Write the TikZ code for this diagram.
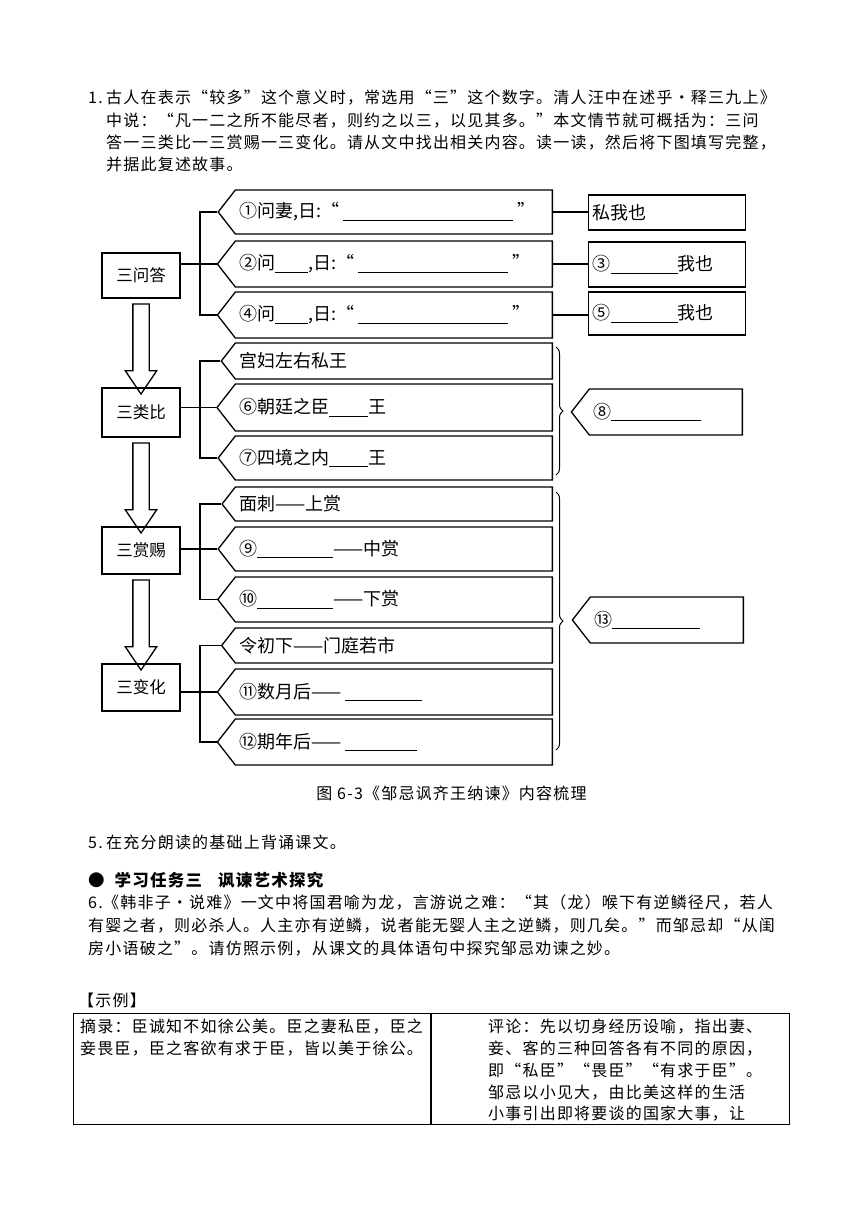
\documentclass[tikz,border=0pt]{standalone}
\usepackage{fontspec}
\setmainfont{Noto Sans CJK SC}
\newfontfamily\bodyfont[LetterSpace=7.5]{Noto Sans CJK SC}
\newfontfamily\handfont{Noto Sans CJK SC}
\usetikzlibrary{arrows.meta,positioning,calc,shapes.symbols,shapes.arrows,decorations.pathreplacing}
\newcommand{\fillin}[1]{\rule[-3pt]{#1pt}{0.7pt}}
\tikzset{lbl/.style={draw,line width=1.3pt,minimum width=78pt,inner sep=0pt,font=\handfont\fontsize{16.5}{18}\selectfont},
  tag/.style={draw,line width=1.3pt,signal,signal to=west,signal pointer angle=104,anchor=east,text width=309pt,inner xsep=4pt,inner ysep=0pt,align=left,font=\handfont\fontsize{18}{20}\selectfont},
  ans/.style={draw,line width=1.3pt,anchor=west,minimum width=157pt,text width=149pt,inner xsep=4pt,inner ysep=0pt,align=left,font=\handfont\fontsize{18}{20}\selectfont},
  blockarr/.style={draw,line width=1.3pt,single arrow,shape border rotate=270,single arrow head extend=7.5pt,single arrow tip angle=68,single arrow head indent=0pt,inner sep=7.5pt,minimum width=30pt},
  conn/.style={line width=1.3pt},
  brc/.style={decorate,decoration={brace,amplitude=7pt},line width=1pt},
  txt/.style={anchor=base west,inner sep=0pt,font=\bodyfont\fontsize{16}{20}\selectfont},
  cellbox/.style={draw,line width=0.8pt,anchor=north west,inner sep=0pt,minimum height=111pt}}
\begin{document}
\begin{tikzpicture}[x=1pt,y=-1pt]
\useasboundingbox (0,0) rectangle (860,1216);
\node[txt] (t1) at (88,103.5){\makebox[18pt][l]{1.}古人在表示“较多”这个意义时，常选用“三”这个数字。清人汪中在述乎・释三九上》};
\node[txt] (t2) at (106,126.5){中说：“凡一二之所不能尽者，则约之以三，以见其多。”本文情节就可概括为：三问};
\node[txt] (t3) at (106,148.5){答一三类比一三赏赐一三变化。请从文中找出相关内容。读一读，然后将下图填写完整，};
\node[txt] (t4) at (106,170.5){并据此复述故事。};

\node[lbl,minimum height=45pt] (qa) at (141,275.5){三问答};
\node[lbl,minimum height=49pt] (qb) at (141,412.5){三类比};
\node[lbl,minimum height=47pt] (qc) at (141,550.5){三赏赐};
\node[lbl,minimum height=47pt] (qd) at (141,687.5){三变化};
\node[blockarr,minimum height=90pt] (a1) at ($(qa.south)!0.5!(qb.north)$){};
\node[blockarr,minimum height=90pt] (a2) at ($(qb.south)!0.5!(qc.north)$){};
\node[blockarr,minimum height=90pt] (a3) at ($(qc.south)!0.5!(qd.north)$){};
\coordinate (jx) at (200,0);

\node[tag,minimum height=44pt] (m1) at (553,212){①问妻,日:“\hspace{4pt}\fillin{170}\hspace{4pt}”};
\node[tag,minimum height=46pt] (m2) at (553,264){②问\fillin{33},日:“\hspace{4pt}\fillin{150}\hspace{4pt}”};
\node[tag,minimum height=46pt] (m3) at (553,315){④问\fillin{33},日:“\hspace{4pt}\fillin{150}\hspace{4pt}”};
\node[ans,minimum height=35pt] (r1) at (588,212.5){私我也};
\node[ans,minimum height=45pt] (r2) at (588,264.5){③\fillin{67}我也};
\node[ans,minimum height=43pt] (r3) at (588,313.5){⑤\fillin{67}我也};

\node[tag,minimum height=36pt] (m4) at (553,361){宫妇左右私王};
\node[tag,minimum height=47pt] (m5) at (553,407.5){⑥朝廷之臣\fillin{39}王};
\node[tag,minimum height=44pt] (m6) at (553,458){⑦四境之内\fillin{39}王};
\node[tag,minimum height=46pt,text width=145pt] (r8) at (743,412){⑧\fillin{90}};

\node[tag,minimum height=34pt] (m7) at (553,504){面刺——上赏};
\node[tag,minimum height=44pt] (m8) at (553,549){⑨\fillin{76}——中赏};
\node[tag,minimum height=45pt] (m9) at (553,599.5){⑩\fillin{76}——下赏};
\node[tag,minimum height=46pt,text width=145pt] (r13) at (744,620){⑬\fillin{88}};

\node[tag,minimum height=35pt] (m10) at (553,645.5){令初下——门庭若市};
\node[tag,minimum height=46pt] (m11) at (553,692){⑪数月后——\hspace{3pt}\fillin{77}};
\node[tag,minimum height=46pt] (m12) at (553,742){⑫期年后——\hspace{3pt}\fillin{72}};

\draw[conn] (qa.east |- m2.west)--(m2.west); \draw[conn] (m1.west)--(m1.west -| jx)--(m3.west -| jx)--(m3.west);
\draw[conn] (qb.east |- m5.west)--(m5.west); \draw[conn] (m4.west)--(m4.west -| jx)--(m6.west -| jx)--(m6.west);
\draw[conn] (qc.east |- m8.west)--(m8.west); \draw[conn] (m7.west)--(m7.west -| jx)--(m9.west -| jx)--(m9.west);
\draw[conn] (qd.east |- m11.west)--(m11.west); \draw[conn] (m10.west)--(m10.west -| jx)--(m12.west -| jx)--(m12.west);
\draw[conn] (m1.east)--(m1.east -| r1.west); \draw[conn] (m2.east)--(m2.east -| r2.west); \draw[conn] (m3.east)--(m3.east -| r3.west);
\coordinate (b1t) at (556,347); \coordinate (b1b) at (556,475);
\coordinate (b2t) at (556,492); \coordinate (b2b) at (556,750);
\draw[brc] (b1t)--(b1b); \draw[brc] (b2t)--(b2b);

\node[font=\bodyfont\fontsize{16}{20}\selectfont,inner sep=0pt] (cap) at (451.5,793){图 6-3《邹忌讽齐王纳谏》内容梳理};
\node[txt] (t5) at (88,848){\makebox[18pt][l]{5.}在充分朗读的基础上背诵课文。};
\node[txt,font=\bodyfont\bfseries\fontsize{16.5}{20}\selectfont] (hd) at (88,886){●\hspace{10pt}学习任务三\hspace{16pt}讽谏艺术探究};
\node[txt] (t6) at (88,908){\makebox[15pt][l]{6.}《韩非子・说难》一文中将国君喻为龙，言游说之难：“其（龙）喉下有逆鳞径尺，若人};
\node[txt] (t7) at (88,931){有婴之者，则必杀人。人主亦有逆鳞，说者能无婴人主之逆鳞，则几矣。”而邹忌却“从闺};
\node[txt] (t8) at (88,954){房小语破之”。请仿照示例，从课文的具体语句中探究邹忌劝谏之妙。};
\node[txt] (ex) at (78,1006){【示例】};

\node[cellbox,minimum width=357pt] (c1) at (73,1013){};
\node[cellbox,minimum width=358pt] (c2) at (c1.north east){};
\node[txt] (l1) at (80,1032){摘录：臣诚知不如徐公美。臣之妻私臣，臣之};
\node[txt] (l2) at (80,1054){妾畏臣，臣之客欲有求于臣，皆以美于徐公。};
\node[txt] (p1) at (488,1032){评论：先以切身经历设喻，指出妻、};
\node[txt] (p2) at (488,1054){妾、客的三种回答各有不同的原因，};
\node[txt] (p3) at (488,1076){即“私臣”“畏臣”“有求于臣”。};
\node[txt] (p4) at (488,1098){邹忌以小见大，由比美这样的生活};
\node[txt] (p5) at (488,1119){小事引出即将要谈的国家大事，让};
\end{tikzpicture}
\end{document}
